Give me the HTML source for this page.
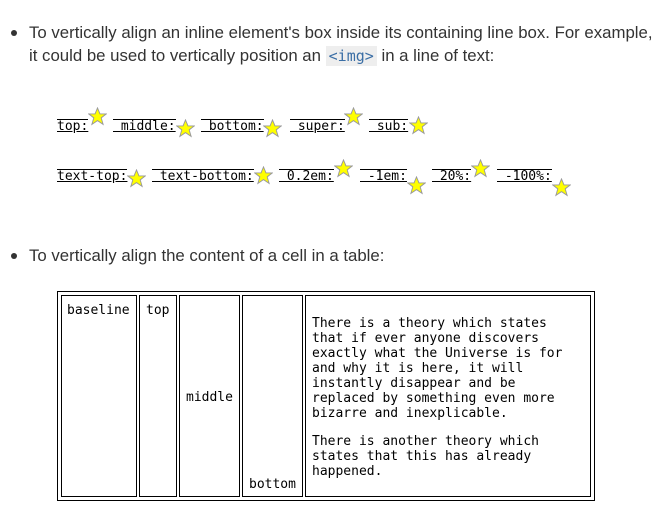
<!DOCTYPE html>
<html><head><meta charset="utf-8"><style>
body{margin:0;width:663px;height:522px;background:#fff;position:relative;overflow:hidden;font-family:"Liberation Sans",sans-serif;color:#333}
.a{position:absolute;white-space:nowrap}
.p{font-size:16.8px;line-height:23px}
.dot{position:absolute;width:6px;height:6px;border-radius:50%;background:#333}
.m{font-family:"DejaVu Sans Mono","Liberation Mono",monospace;font-size:13px;color:#000}
.l{position:absolute;white-space:pre;font-family:"DejaVu Sans Mono",monospace;font-size:13px;line-height:14px;color:#000;border-top:1px solid #000;text-decoration:underline}
.s{position:absolute;width:19px;height:19px}
.c{position:absolute;border:1px solid #000;box-sizing:border-box}
code{font-family:"DejaVu Sans Mono",monospace;font-size:15px;color:#3a6ea5;background:#eee;padding:1px 3px}
</style></head><body>
<div class="dot" style="left:11px;top:30px"></div>
<div class="a p" style="left:29px;top:21px">To vertically align an inline element's box inside its containing line box. For example,</div>
<div class="a p" style="left:29px;top:44px">it could be used to vertically position an <code>&lt;img&gt;</code> in a line of text:</div>

<svg width="0" height="0" style="position:absolute"><defs><symbol id="st" viewBox="0 0 20 20"><polygon points="10,1 12.6,7.3 19.2,7.3 13.9,11.4 15.9,18.3 10,14.3 4.1,18.3 6.1,11.4 0.8,7.3 7.4,7.3" fill="#ff0" stroke="#999" stroke-width="1"/></symbol></defs></svg>

<div class="l" style="left:57px;top:119px">top:</div><svg class="s" style="left:88px;top:107px"><use href="#st"/></svg>
<div class="l" style="left:113px;top:119px"> middle:</div><svg class="s" style="left:176px;top:119px"><use href="#st"/></svg>
<div class="l" style="left:201px;top:119px"> bottom:</div><svg class="s" style="left:263px;top:119px"><use href="#st"/></svg>
<div class="l" style="left:290px;top:119px"> super:</div><svg class="s" style="left:344px;top:107px"><use href="#st"/></svg>
<div class="l" style="left:369px;top:119px"> sub:</div><svg class="s" style="left:409px;top:116px"><use href="#st"/></svg>

<div class="l" style="left:57px;top:169px">text-top:</div><svg class="s" style="left:127px;top:169px"><use href="#st"/></svg>
<div class="l" style="left:152px;top:169px"> text-bottom:</div><svg class="s" style="left:254px;top:166px"><use href="#st"/></svg>
<div class="l" style="left:279px;top:169px"> 0.2em:</div><svg class="s" style="left:334px;top:159px"><use href="#st"/></svg>
<div class="l" style="left:360px;top:169px"> -1em:</div><svg class="s" style="left:407px;top:176px"><use href="#st"/></svg>
<div class="l" style="left:432px;top:169px"> 20%:</div><svg class="s" style="left:471px;top:159px"><use href="#st"/></svg>
<div class="l" style="left:497px;top:169px"> -100%:</div><svg class="s" style="left:552px;top:178px"><use href="#st"/></svg>

<div class="dot" style="left:11px;top:253px"></div>
<div class="a p" style="left:29px;top:244px">To vertically align the content of a cell in a table:</div>

<div class="c" style="left:57px;top:291px;width:538px;height:210px"></div>
<div class="c" style="left:61px;top:295px;width:76px;height:202px"></div>
<div class="c" style="left:139px;top:295px;width:38px;height:202px"></div>
<div class="c" style="left:179px;top:295px;width:61px;height:202px"></div>
<div class="c" style="left:242px;top:295px;width:61px;height:202px"></div>
<div class="c" style="left:305px;top:295px;width:286px;height:202px"></div>
<div class="a m" style="left:67px;top:303px">baseline</div>
<div class="a m" style="left:146px;top:303px">top</div>
<div class="a m" style="left:186px;top:390px">middle</div>
<div class="a m" style="left:249px;top:477px">bottom</div>
<div class="a m" style="left:312px;top:316px;line-height:15px">There is a theory which states<br>that if ever anyone discovers<br>exactly what the Universe is for<br>and why it is here, it will<br>instantly disappear and be<br>replaced by something even more<br>bizarre and inexplicable.</div>
<div class="a m" style="left:312px;top:434px;line-height:15px">There is another theory which<br>states that this has already<br>happened.</div>
</body></html>
